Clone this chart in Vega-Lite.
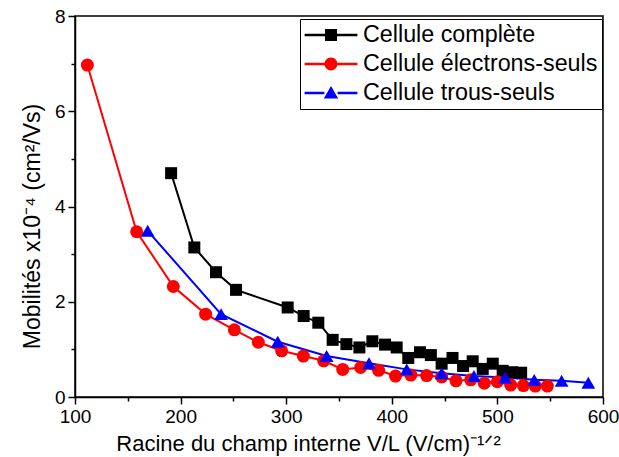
{
  "$schema": "https://vega.github.io/schema/vega-lite/v6.json",
  "width": 528,
  "height": 381,
  "autosize": {"type": "none"},
  "padding": {"left": 75, "top": 16, "right": 16, "bottom": 60},
  "background": "white",
  "config": {
    "view": {"stroke": "black", "strokeWidth": 1.5},
    "font": "Liberation Sans",
    "axis": {
      "grid": false,
      "domainColor": "black",
      "domainWidth": 1.5,
      "tickColor": "black",
      "tickWidth": 1.5,
      "labelFont": "Liberation Sans",
      "labelFontSize": 19,
      "labelColor": "black",
      "titleFont": "Liberation Sans",
      "titleFontSize": 22,
      "titleFontWeight": "normal",
      "titleColor": "black"
    }
  },
  "data": {
    "values": [
      {"serie": "Cellule complète", "x": 191, "y": 4.7},
      {"serie": "Cellule complète", "x": 213, "y": 3.14},
      {"serie": "Cellule complète", "x": 233.5, "y": 2.62},
      {"serie": "Cellule complète", "x": 252.5, "y": 2.25},
      {"serie": "Cellule complète", "x": 301.4, "y": 1.88},
      {"serie": "Cellule complète", "x": 316.5, "y": 1.7},
      {"serie": "Cellule complète", "x": 330.4, "y": 1.56},
      {"serie": "Cellule complète", "x": 344, "y": 1.2},
      {"serie": "Cellule complète", "x": 357, "y": 1.11},
      {"serie": "Cellule complète", "x": 369.3, "y": 1.04},
      {"serie": "Cellule complète", "x": 381.6, "y": 1.17},
      {"serie": "Cellule complète", "x": 393.6, "y": 1.1},
      {"serie": "Cellule complète", "x": 404.6, "y": 1.04},
      {"serie": "Cellule complète", "x": 415.6, "y": 0.82},
      {"serie": "Cellule complète", "x": 426.7, "y": 0.94},
      {"serie": "Cellule complète", "x": 437, "y": 0.88},
      {"serie": "Cellule complète", "x": 447.2, "y": 0.7},
      {"serie": "Cellule complète", "x": 457.5, "y": 0.82},
      {"serie": "Cellule complète", "x": 467.5, "y": 0.65},
      {"serie": "Cellule complète", "x": 476.6, "y": 0.75},
      {"serie": "Cellule complète", "x": 486.1, "y": 0.59},
      {"serie": "Cellule complète", "x": 495.6, "y": 0.7},
      {"serie": "Cellule complète", "x": 505, "y": 0.55},
      {"serie": "Cellule complète", "x": 514, "y": 0.52},
      {"serie": "Cellule complète", "x": 522.5, "y": 0.51},
      {"serie": "Cellule électrons-seuls", "x": 111.7, "y": 6.97},
      {"serie": "Cellule électrons-seuls", "x": 158.4, "y": 3.47},
      {"serie": "Cellule électrons-seuls", "x": 193.1, "y": 2.32},
      {"serie": "Cellule électrons-seuls", "x": 223.7, "y": 1.74},
      {"serie": "Cellule électrons-seuls", "x": 250.9, "y": 1.41},
      {"serie": "Cellule électrons-seuls", "x": 273.6, "y": 1.15},
      {"serie": "Cellule électrons-seuls", "x": 295.7, "y": 0.97},
      {"serie": "Cellule électrons-seuls", "x": 316.2, "y": 0.86},
      {"serie": "Cellule électrons-seuls", "x": 335.5, "y": 0.76},
      {"serie": "Cellule électrons-seuls", "x": 353.5, "y": 0.58},
      {"serie": "Cellule électrons-seuls", "x": 370.5, "y": 0.62},
      {"serie": "Cellule électrons-seuls", "x": 387.5, "y": 0.56},
      {"serie": "Cellule électrons-seuls", "x": 403.5, "y": 0.44},
      {"serie": "Cellule électrons-seuls", "x": 418, "y": 0.46},
      {"serie": "Cellule électrons-seuls", "x": 433, "y": 0.45},
      {"serie": "Cellule électrons-seuls", "x": 447.2, "y": 0.42},
      {"serie": "Cellule électrons-seuls", "x": 460.8, "y": 0.34},
      {"serie": "Cellule électrons-seuls", "x": 474.7, "y": 0.36},
      {"serie": "Cellule électrons-seuls", "x": 487.6, "y": 0.29},
      {"serie": "Cellule électrons-seuls", "x": 499.9, "y": 0.32},
      {"serie": "Cellule électrons-seuls", "x": 512.6, "y": 0.25},
      {"serie": "Cellule électrons-seuls", "x": 524.6, "y": 0.24},
      {"serie": "Cellule électrons-seuls", "x": 535.9, "y": 0.23},
      {"serie": "Cellule électrons-seuls", "x": 547.3, "y": 0.23},
      {"serie": "Cellule trous-seuls", "x": 168.8, "y": 3.49},
      {"serie": "Cellule trous-seuls", "x": 238.3, "y": 1.74},
      {"serie": "Cellule trous-seuls", "x": 292, "y": 1.16},
      {"serie": "Cellule trous-seuls", "x": 338.3, "y": 0.86},
      {"serie": "Cellule trous-seuls", "x": 378.4, "y": 0.71},
      {"serie": "Cellule trous-seuls", "x": 414.1, "y": 0.58},
      {"serie": "Cellule trous-seuls", "x": 447.2, "y": 0.5},
      {"serie": "Cellule trous-seuls", "x": 477.8, "y": 0.44},
      {"serie": "Cellule trous-seuls", "x": 507.2, "y": 0.41},
      {"serie": "Cellule trous-seuls", "x": 534.9, "y": 0.36},
      {"serie": "Cellule trous-seuls", "x": 560.8, "y": 0.34},
      {"serie": "Cellule trous-seuls", "x": 586.1, "y": 0.3}
    ]
  },
  "encoding": {
    "x": {
      "field": "x",
      "type": "quantitative",
      "scale": {"domain": [100, 600], "nice": false, "zero": false},
      "axis": {
        "title": "Racine du champ interne V/L (V/cm)⁻¹ᐟ²",
        "values": [100, 150, 200, 250, 300, 350, 400, 450, 500, 550, 600],
        "labelExpr": "datum.value % 100 === 0 ? datum.label : ''",
        "tickSize": {"condition": {"test": "datum.value % 100 === 0", "value": 7}, "value": 4},
        "labelPadding": 3,
        "labelFlush": false,
        "titleX": 233,
        "titleY": 53,
        "titleAlign": "center",
        "titleBaseline": "alphabetic",
        "titleAnchor": null
      }
    },
    "y": {
      "field": "y",
      "type": "quantitative",
      "scale": {"domain": [0, 8], "nice": false},
      "axis": {
        "title": "Mobilités x10⁻⁴ (cm²/Vs)",
        "titleFontSize": 23,
        "values": [0, 1, 2, 3, 4, 5, 6, 7, 8],
        "labelExpr": "datum.value % 2 === 0 ? datum.label : ''",
        "tickSize": {"condition": {"test": "datum.value % 2 === 0", "value": 7}, "value": 4},
        "labelPadding": 3,
        "labelFlush": false,
        "titleX": -36,
        "titleY": 210,
        "titleAlign": "center",
        "titleBaseline": "alphabetic",
        "titleAngle": -90
      }
    },
    "color": {
      "field": "serie",
      "type": "nominal",
      "scale": {
        "domain": ["Cellule complète", "Cellule électrons-seuls", "Cellule trous-seuls"],
        "range": ["#000000", "#ff0000", "#0000ff"]
      },
      "legend": {
        "title": null,
        "orient": "none",
        "legendX": 225,
        "legendY": 3,
        "padding": 4,
        "fillColor": "white",
        "strokeColor": "black",
        "labelFont": "Liberation Sans",
        "labelFontSize": 23.3,
        "labelColor": "black",
        "labelLimit": 400,
        "symbolSize": 576,
        "symbolOffset": 15,
        "labelOffset": 20,
        "rowPadding": 5,
        "encode": {
          "symbols": {
            "update": {
              "shape": {"signal": "datum.value === 'Cellule complète' ? 'M-2.2,-0.1H-0.5V0.1H-2.2Z M0.5,-0.1H2.2V0.1H0.5Z M-0.5,-0.5H0.5V0.5H-0.5Z' : datum.value === 'Cellule électrons-seuls' ? 'M-2.2,-0.1H-0.54V0.1H-2.2Z M0.54,-0.1H2.2V0.1H0.54Z M-0.54,0A0.54,0.54 0 1,1 0.54,0A0.54,0.54 0 1,1 -0.54,0Z' : 'M-2.2,-0.1H-0.55V0.1H-2.2Z M0.55,-0.1H2.2V0.1H0.55Z M0,-0.58L0.6,0.45H-0.6Z'"},
              "fill": {"signal": "datum.value === 'Cellule complète' ? '#000000' : datum.value === 'Cellule électrons-seuls' ? '#ff0000' : '#0000ff'"},
              "stroke": {"value": "transparent"},
              "strokeWidth": {"value": 0},
              "opacity": {"value": 1}
            }
          }
        }
      }
    }
  },
  "layer": [
    {
      "mark": {"type": "line", "strokeWidth": 2}
    },
    {
      "transform": [{"filter": "datum.serie === 'Cellule complète'"}],
      "mark": {"type": "point", "filled": true, "opacity": 1, "shape": "square", "size": 144}
    },
    {
      "transform": [{"filter": "datum.serie === 'Cellule électrons-seuls'"}],
      "mark": {"type": "point", "filled": true, "opacity": 1, "shape": "circle", "size": 169}
    },
    {
      "transform": [{"filter": "datum.serie === 'Cellule trous-seuls'"}],
      "mark": {"type": "point", "filled": true, "opacity": 1, "shape": "triangle-up", "size": 190}
    }
  ]
}
